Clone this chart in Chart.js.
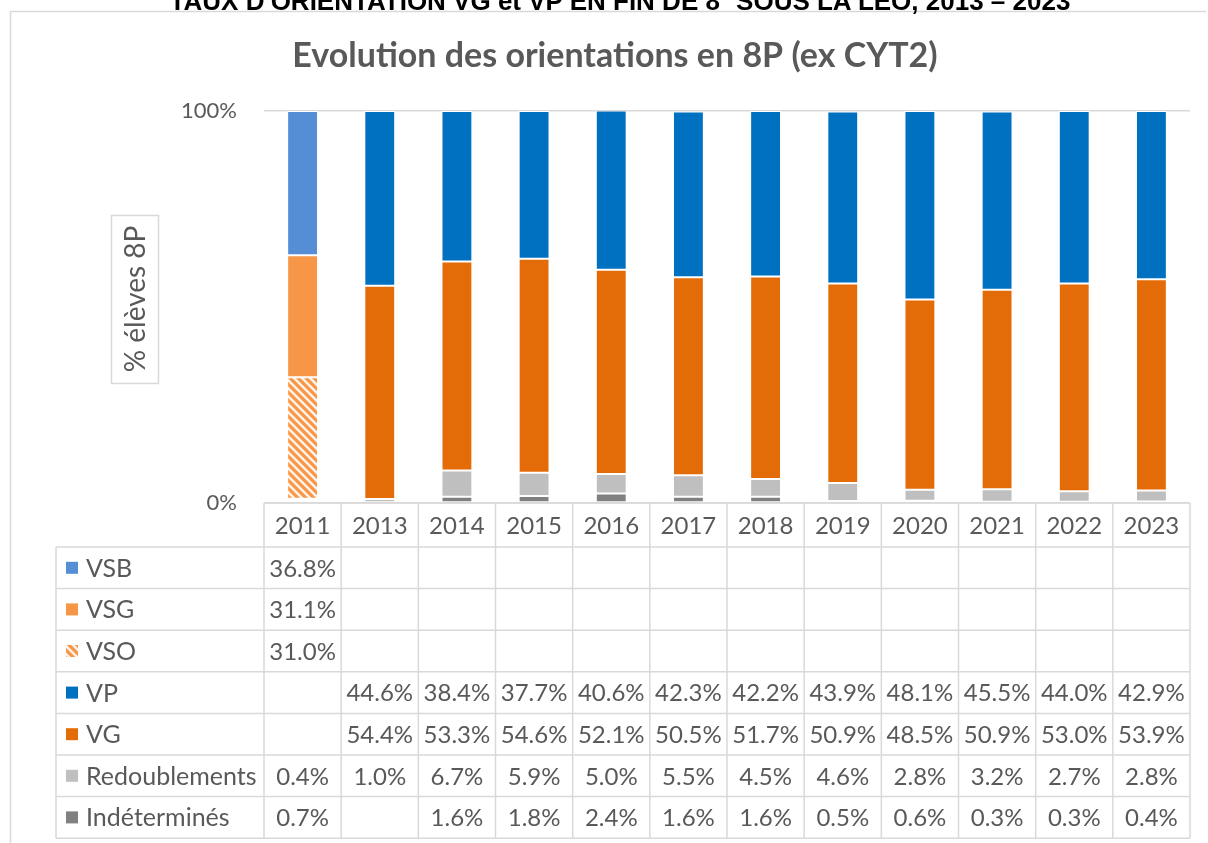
<!DOCTYPE html>
<html><head><meta charset="utf-8">
<script src="https://cdn.jsdelivr.net/npm/chart.js@4.4.1/dist/chart.umd.min.js"></script>
<style>
html,body{margin:0;padding:0;background:#fff;overflow:hidden;}
#wrap{position:relative;width:1208px;height:843px;overflow:hidden;}
#banner{position:absolute;left:0;width:1208px;box-sizing:border-box;padding-left:32px;top:-12px;text-align:center;font:bold 26px "Liberation Sans",Arial,sans-serif;line-height:26px;color:#000;white-space:nowrap;}
#banner sup{font-size:16px;line-height:0;}
canvas{position:absolute;left:0;top:0;display:block;}
</style></head>
<body><div id="wrap">
<canvas id="c" width="1208" height="843"></canvas>
<div id="banner">TAUX D'ORIENTATION VG et VP EN FIN DE 8<sup>e</sup> SOUS LA LEO, 2013 – 2023</div>
</div>
<script>
const years = ['2011','2013','2014','2015','2016','2017','2018','2019','2020','2021','2022','2023'];
const VSB = [36.8,null,null,null,null,null,null,null,null,null,null,null];
const VSG = [31.1,null,null,null,null,null,null,null,null,null,null,null];
const VSO = [31.0,null,null,null,null,null,null,null,null,null,null,null];
const VP = [null,44.6,38.4,37.7,40.6,42.3,42.2,43.9,48.1,45.5,44.0,42.9];
const VG = [null,54.4,53.3,54.6,52.1,50.5,51.7,50.9,48.5,50.9,53.0,53.9];
const Redoublements = [0.4,1.0,6.7,5.9,5.0,5.5,4.5,4.6,2.8,3.2,2.7,2.8];
const Indetermines = [0.7,null,1.6,1.8,2.4,1.6,1.6,0.5,0.6,0.3,0.3,0.4];
const yTicks = [0,100];

const TXT = '#595959', GRID = '#D9D9D9';
const FONT = 'Lato, "Open Sans", sans-serif';

function hatch(){
  const c = document.createElement('canvas'); c.width = 8; c.height = 8;
  const g = c.getContext('2d');
  g.fillStyle = '#FFF4EA'; g.fillRect(0,0,8,8);
  g.strokeStyle = '#F79646'; g.lineWidth = 3.2;
  g.beginPath();
  g.moveTo(-2,-2); g.lineTo(10,10);
  g.moveTo(-2,6); g.lineTo(2,10);
  g.moveTo(6,-2); g.lineTo(10,2);
  g.stroke();
  return g.createPattern(c,'repeat');
}
const hatchPat = hatch();

// legend/table order (top to bottom)
const series = [
  {label:'VSB', data:VSB, color:'#558ED5'},
  {label:'VSG', data:VSG, color:'#F79646'},
  {label:'VSO', data:VSO, color:hatchPat},
  {label:'VP', data:VP, color:'#0070C0'},
  {label:'VG', data:VG, color:'#E36C09'},
  {label:'Redoublements', data:Redoublements, color:'#BFBFBF'},
  {label:'Indéterminés', data:Indetermines, color:'#808080'}
];

const datasets = series.slice().reverse().map(s => ({
  label: s.label, data: s.data, backgroundColor: s.color,
  borderColor: '#FFFFFF', borderWidth: 1, borderSkipped: false,
  barPercentage: 0.4, categoryPercentage: 1.0, stack: 's'
}));

const framePlugin = {
  id: 'frame',
  beforeDraw(chart){
    const ctx = chart.ctx;
    ctx.save();
    ctx.strokeStyle = GRID; ctx.lineWidth = 1.5;
    ctx.beginPath();
    ctx.moveTo(10.5, 843); ctx.lineTo(10.5, 11.5); ctx.lineTo(1206, 11.5);
    ctx.stroke();
    ctx.fillStyle = TXT;
    ctx.font = 'bold 34px ' + FONT;
    ctx.textAlign = 'center'; ctx.textBaseline = 'middle';
    ctx.fillText('Evolution des orientations en 8P (ex CYT2)', 615, 56);
    // y axis title box
    ctx.strokeStyle = GRID; ctx.lineWidth = 1.5;
    ctx.strokeRect(111.5, 215.5, 47, 168);
    ctx.translate(135, 299); ctx.rotate(-Math.PI/2);
    ctx.font = '28px ' + FONT;
    ctx.fillText('% élèves 8P', 0, 1);
    ctx.restore();
  }
};

const tablePlugin = {
  id: 'table',
  afterDraw(chart){
    const ctx = chart.ctx, x = chart.scales.x, a = chart.chartArea;
    const n = years.length, cw = (a.right - a.left) / n;
    const top = a.bottom, headH = 44, rowH = 41.6;
    const legL = 56;
    const rowsTop = top + headH, bottom = rowsTop + rowH * series.length;
    ctx.save();
    ctx.strokeStyle = GRID; ctx.lineWidth = 1.5;
    ctx.beginPath();
    ctx.moveTo(a.left, top); ctx.lineTo(a.right, top);
    for (let r = 0; r <= series.length; r++) {
      const y = rowsTop + r * rowH;
      ctx.moveTo(legL, y); ctx.lineTo(a.right, y);
    }
    for (let i = 0; i <= n; i++) {
      const xx = a.left + i * cw;
      ctx.moveTo(xx, top); ctx.lineTo(xx, bottom);
    }
    ctx.moveTo(legL, rowsTop); ctx.lineTo(legL, bottom);
    ctx.stroke();
    ctx.fillStyle = TXT;
    ctx.font = '24px ' + FONT;
    ctx.textAlign = 'center'; ctx.textBaseline = 'middle';
    years.forEach((yr, i) => {
      ctx.fillText(yr, x.getPixelForValue(i), top + headH / 2 + 1);
    });
    series.forEach((s, r) => {
      const cy = rowsTop + r * rowH + rowH / 2;
      s.data.forEach((v, i) => {
        if (v === null) return;
        ctx.fillStyle = TXT;
        ctx.fillText(v.toFixed(1) + '%', x.getPixelForValue(i), cy + 1);
      });
      ctx.fillStyle = s.color;
      ctx.fillRect(66, cy - 6, 12, 12);
      ctx.fillStyle = TXT;
      ctx.textAlign = 'left';
      ctx.font = '25px ' + FONT;
      ctx.fillText(s.label, 86, cy + 1);
      ctx.font = '24px ' + FONT;
      ctx.textAlign = 'center';
    });
    ctx.restore();
  }
};

new Chart(document.getElementById('c'), {
  type: 'bar',
  data: { labels: years, datasets },
  options: {
    responsive: false, animation: false,
    layout: { padding: { left: 0, right: 18, top: 111, bottom: 340 } },
    plugins: { legend: { display: false }, tooltip: { enabled: false }, title: { display: false } },
    scales: {
      x: { stacked: true, display: false },
      y: {
        stacked: true, min: 0, max: 100,
        afterFit(s){ s.width = 264; },
        afterBuildTicks(s){ s.ticks = yTicks.map(v => ({ value: v })); },
        border: { display: false },
        grid: { color: GRID, lineWidth: 1.5, drawTicks: false },
        ticks: { color: TXT, padding: 27, font: { family: FONT, size: 22 }, callback: v => v + '%' }
      }
    }
  },
  plugins: [framePlugin, tablePlugin]
});
</script>
</body></html>
